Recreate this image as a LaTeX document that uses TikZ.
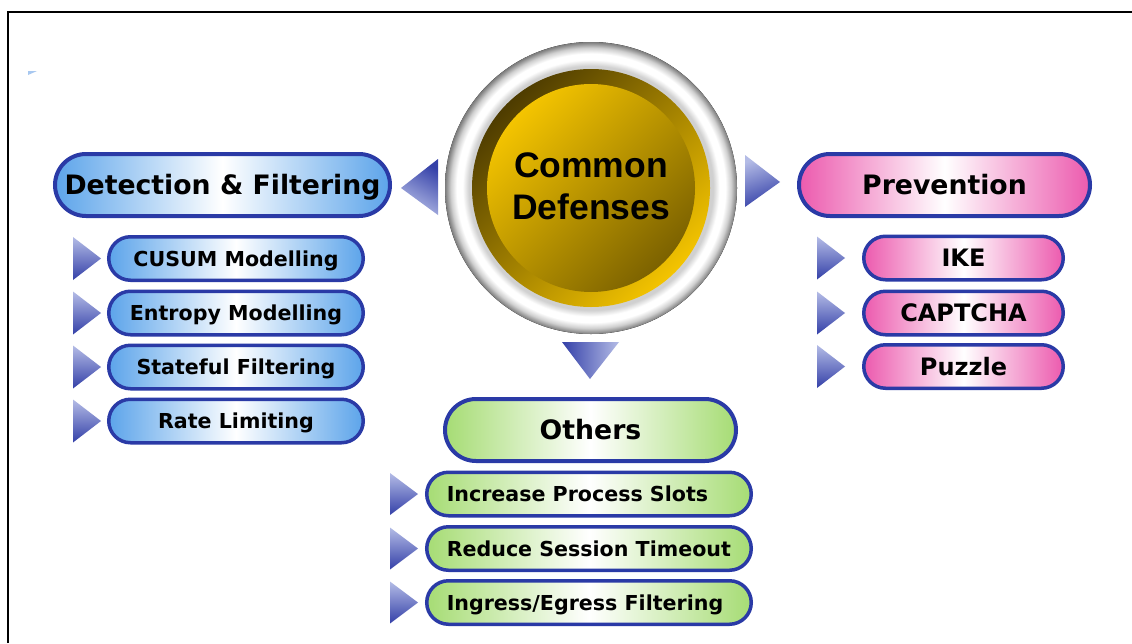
\documentclass[tikz,border=0pt]{standalone}
\usepackage{fontspec}
\setmainfont{DejaVu Sans}
\newfontfamily\arialb{Liberation Sans}
\definecolor{bord}{HTML}{2A3AA6}
\definecolor{pblue}{HTML}{5CA4EA}
\definecolor{ppink}{HTML}{EC5AAE}
\definecolor{pgreen}{HTML}{A6DC74}
\definecolor{tridark}{HTML}{3440A8}
\definecolor{trilight}{HTML}{B4BCE6}
\definecolor{golddark}{HTML}{4E3C00}
\definecolor{gold}{HTML}{F4C400}
\definecolor{olive}{HTML}{7C6200}
\definecolor{ring1}{HTML}{7A7A7A}
\definecolor{ring2}{HTML}{D0D0D0}
\definecolor{markblue}{HTML}{A8C8F0}
\pgfdeclareradialshading{silver}{\pgfpointorigin}{color(0bp)=(ring2); color(20.4bp)=(ring2); color(20.9bp)=(ring2); color(22.0bp)=(white); color(23.0bp)=(white); color(24.0bp)=(ring2); color(25bp)=(ring1); color(50bp)=(ring1)}
\tikzset{
  pillhead/.style={rectangle, rounded corners=31pt, draw=bord, line width=4pt,
    minimum height=62pt, inner xsep=6pt, inner ysep=0pt,
    font=\fontsize{26.7}{30}\selectfont\bfseries, text height=19.5pt, text depth=0pt},
  pillsub/.style={rectangle, rounded corners=21.75pt, draw=bord, line width=3.5pt,
    minimum height=43.5pt, inner xsep=6pt, inner ysep=0pt,
    font=\fontsize{20.6}{24}\selectfont\bfseries, text height=15pt, text depth=0pt},
  pillbig/.style={font=\fontsize{24}{28}\selectfont\bfseries, text height=17.5pt},
  fblue/.style={left color=pblue, right color=pblue, middle color=white},
  fpink/.style={left color=ppink, right color=ppink, middle color=white},
  fgreen/.style={left color=pgreen, right color=pgreen, middle color=white},
  subtri/.style={top color=trilight, bottom color=tridark},
  coretext/.style={font=\arialb\fontsize{35.5}{42}\selectfont\bfseries, anchor=base, inner sep=0pt}
}
\begin{document}
\begin{tikzpicture}[x=1pt,y=-1pt]
\useasboundingbox (0,0) rectangle (1132,643);
\fill[white] (0,0) rectangle (1132,643);
% frame
\draw[line width=2.5pt] (8,643) -- (8,12) -- (1132,12);
\fill[markblue] (28,71) -- (37,71) -- (28,75) -- cycle;

% central disc
\fill[shading=silver] (591,188) circle (146pt);
\shade[top color=golddark, bottom color=gold, shading angle=45] (591,188) circle (119pt);
\shade[top color=gold, bottom color=olive, shading angle=45] (591,188) circle (104pt);
\node[coretext] (core1) at (591,177) {Common};
\node[coretext] (core2) at (591,219) {Defenses};

% big triangles
\shade[top color=tridark, bottom color=trilight, shading angle=-30] (438,159) -- (401,188) -- (438,215) -- cycle;
\shade[top color=trilight, bottom color=tridark, shading angle=20] (745,155) -- (780,182) -- (745,207) -- cycle;
\shade[left color=tridark, right color=trilight] (562,342) -- (619,342) -- (590,379) -- cycle;

% headers
\node[pillhead, fblue, minimum width=335pt] (det) at (222.5,185) {Detection \& Filtering};
\node[pillhead, fpink, minimum width=291pt] (prev) at (944.5,185) {Prevention};
\node[pillhead, fgreen, minimum width=291pt] (oth) at (590.5,430) {Others};

% left list
\foreach \y/\t/\n in {258.5/CUSUM Modelling/d1, 313/Entropy Modelling/d2, 367/Stateful Filtering/d3, 421/Rate Limiting/d4}{
  \shade[subtri] (73,\y-21.5) -- (101,\y) -- (73,\y+21.5) -- cycle;
  \node[pillsub, fblue, minimum width=254.5pt] (\n) at (236,\y) {\t};
}
% right list
\foreach \y/\t/\n in {258/IKE/p1, 313/CAPTCHA/p2, 366.5/Puzzle/p3}{
  \shade[subtri] (817,\y-21.5) -- (845,\y) -- (817,\y+21.5) -- cycle;
  \node[pillsub, pillbig, fpink, minimum width=199.5pt] (\n) at (963.5,\y) {\t};
}
% others list
\foreach \y/\t/\n in {494/{Increase Process Slots}/o1, 548.5/{Reduce Session Timeout}/o2, 602.5/{Ingress/Egress Filtering}/o3}{
  \shade[subtri] (390,\y-21) -- (418,\y) -- (390,\y+21) -- cycle;
  \node[pillsub, fgreen, minimum width=324.5pt, inner xsep=20pt] (\n) at (589,\y) {\makebox[284.5pt][l]{\t}};
}
\end{tikzpicture}
\end{document}
